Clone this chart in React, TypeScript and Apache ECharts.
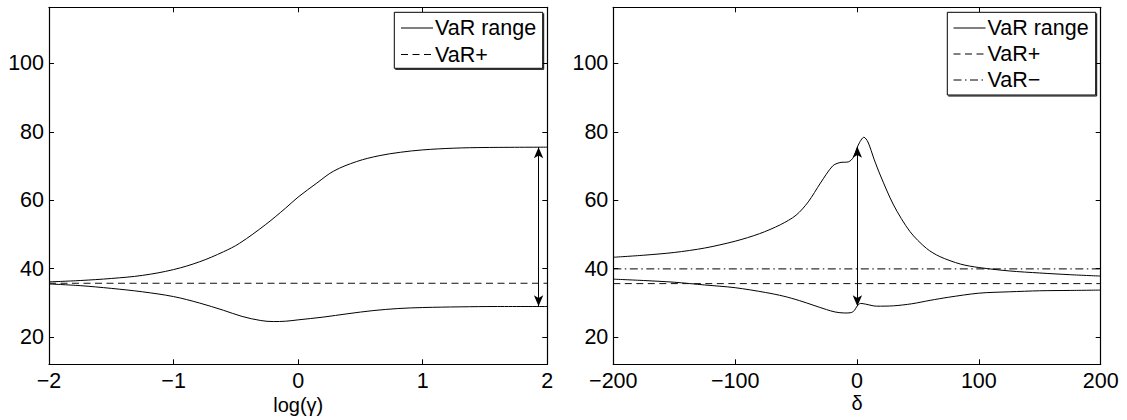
import { useEffect, useRef } from "react";
import * as echarts from "echarts";

// ---------- data ----------
const yTicks = [20, 40, 60, 80, 100];

// left panel: x = log(gamma)
const gammaX = [-2, -1.75, -1.5, -1.25, -1, -0.79, -0.6, -0.47, -0.26, -0.1, 0, 0.15, 0.285, 0.47, 0.65, 0.82, 1.0, 1.25, 1.5, 2.0];
const gammaUpper = [36.1, 36.5, 37.1, 38.0, 39.7, 42.0, 44.9, 47.4, 52.9, 57.7, 60.9, 65.0, 68.5, 71.3, 73.0, 74.0, 74.7, 75.2, 75.4, 75.5];
const gammaXLow = [-2, -1.75, -1.5, -1.25, -1, -0.79, -0.6, -0.45, -0.3, -0.2, -0.1, 0, 0.2, 0.4, 0.6, 0.8, 1.0, 1.3, 1.6, 2.0];
const gammaLower = [35.5, 35.0, 34.2, 33.2, 31.8, 29.9, 27.8, 26.0, 24.8, 24.5, 24.6, 25.0, 25.8, 26.8, 27.7, 28.3, 28.6, 28.8, 28.9, 28.9];
const gammaVarPlus = 35.7;
const gammaArrow = [1.93, 75.5, 29.0]; // x, top, bottom

// right panel: x = delta
const deltaXUp = [-200, -175, -150, -125, -100, -80, -63, -50, -40, -30, -20, -14, -7, -3, 1, 5.7, 9, 14, 19, 30, 43.5, 57, 68, 85, 100, 125, 150, 175, 200];
const deltaUpper = [43.3, 43.9, 44.7, 46.0, 48.0, 50.2, 52.8, 55.6, 59.5, 65.0, 70.0, 71.0, 71.2, 72.5, 76.1, 78.4, 77.0, 72.0, 67.4, 58.6, 50.8, 45.9, 43.5, 41.3, 40.3, 39.3, 38.7, 38.2, 37.8];
const deltaXLow = [-200, -175, -150, -125, -100, -75, -60, -47, -36, -25, -18, -10, -5, -2, 0, 3, 7, 16, 30, 45, 60, 75, 100, 125, 150, 175, 200];
const deltaLower = [36.9, 36.5, 36.0, 35.2, 34.4, 33.0, 31.9, 30.6, 29.3, 28.0, 27.3, 27.0, 27.1, 27.8, 29.0, 29.8, 29.6, 29.0, 29.1, 29.7, 30.7, 31.6, 32.8, 33.2, 33.5, 33.6, 33.7];
const deltaVarPlus = 35.6;
const deltaVarMinus = 39.9;
const deltaArrow = [0.3, 75.6, 29.0];

const FONT = "Liberation Sans";
const FS = 21.5;
const minus = (v: number) => String(v).replace("-", "\u2212");

function zip(xs: number[], ys: number[]) {
  return xs.map((x, i) => [x, ys[i]]);
}

export default function App() {
  const ref = useRef<HTMLDivElement>(null);
  useEffect(() => {
    if (!ref.current) return;
    const chart = echarts.init(ref.current, undefined, { renderer: "svg" });

    const axisLine = { show: true, onZero: false, lineStyle: { color: "#000", width: 1.2 } };
    const tick = { show: true, inside: true, length: 5, lineStyle: { color: "#000", width: 1 } };
    const label = { color: "#000", fontSize: FS, fontFamily: FONT, formatter: (v: number) => minus(v) };

    const xAxisDef = (grid: number, min: number, max: number, interval: number, top: boolean) => ({
      type: "value",
      gridIndex: grid,
      position: top ? "top" : "bottom",
      min,
      max,
      interval,
      axisLine,
      axisTick: tick,
      axisLabel: top ? { show: false } : { ...label, margin: 6 },
      splitLine: { show: false },
    });
    const yAxisDef = (grid: number, right: boolean) => ({
      type: "value",
      gridIndex: grid,
      position: right ? "right" : "left",
      min: 12,
      max: 116.4,
      axisLine,
      axisTick: { ...tick, customValues: yTicks },
      axisLabel: right ? { show: false } : { ...label, margin: 5, customValues: yTicks },
      splitLine: { show: false },
    });

    const solid = { color: "#000", width: 1 };
    const lineSeries = (xi: number, yi: number, data: number[][], style: any, smooth: number | boolean = 0.35) => ({
      type: "line",
      xAxisIndex: xi,
      yAxisIndex: yi,
      data,
      smooth,
      symbol: "none",
      lineStyle: style,
      silent: true,
      z: 3,
    });
    const arrow = (xi: number, yi: number, a: number[]) => ({
      type: "line",
      xAxisIndex: xi,
      yAxisIndex: yi,
      data: [],
      symbol: "none",
      silent: true,
      z: 4,
      markLine: {
        silent: true,
        symbol: ["arrow", "arrow"],
        symbolSize: [7, 11],
        label: { show: false },
        lineStyle: { color: "#000", width: 1, type: "solid" },
        emphasis: { disabled: true },
        data: [[{ coord: [a[0], a[1]] }, { coord: [a[0], a[2]] }]],
      },
    });

    const legendBox = (x: number, y: number, w: number, h: number) => [
      { type: "rect", shape: { x, y, width: w, height: h }, style: { fill: "#fff", stroke: "#000", lineWidth: 1 }, z: 10 },
      { type: "line", shape: { x1: x + w + 1, y1: y + 1, x2: x + w + 1, y2: y + h + 1 }, style: { stroke: "#000", lineWidth: 1 }, z: 10 },
      { type: "line", shape: { x1: x + 1, y1: y + h + 1, x2: x + w + 1, y2: y + h + 1 }, style: { stroke: "#000", lineWidth: 1 }, z: 10 },
    ];
    const legendEntry = (x: number, y: number, text: string, dash: number[] | null) => [
      { type: "line", shape: { x1: x, y1: y, x2: x + 32, y2: y }, style: { stroke: "#000", lineWidth: 1, lineDash: dash || undefined }, z: 11 },
      { type: "text", x: x + 34, y, style: { text, fill: "#000", fontSize: FS, fontFamily: FONT, verticalAlign: "middle", align: "left" }, z: 11 },
    ];

    const dashed = [7, 4.5];
    const dashDot = [8, 3.5, 1.5, 3.5];

    chart.setOption({
      animation: false,
      backgroundColor: "#fff",
      grid: [
        { left: 49, top: 7.3, width: 498.3, height: 357, containLabel: false },
        { left: 613.3, top: 7.3, width: 487.4, height: 357, containLabel: false },
      ],
      xAxis: [
        xAxisDef(0, -2, 2, 1, false),
        xAxisDef(0, -2, 2, 1, true),
        xAxisDef(1, -200, 200, 100, false),
        xAxisDef(1, -200, 200, 100, true),
      ],
      yAxis: [yAxisDef(0, false), yAxisDef(0, true), yAxisDef(1, false), yAxisDef(1, true)],
      series: [
        lineSeries(0, 0, zip(gammaX, gammaUpper), solid),
        lineSeries(0, 0, zip(gammaXLow, gammaLower), solid),
        lineSeries(0, 0, [[-2, gammaVarPlus], [2, gammaVarPlus]], { color: "#111", width: 1, type: dashed }, false),
        arrow(0, 0, gammaArrow),
        lineSeries(2, 2, zip(deltaXUp, deltaUpper), solid, 0.3),
        lineSeries(2, 2, zip(deltaXLow, deltaLower), solid, 0.3),
        lineSeries(2, 2, [[-200, deltaVarPlus], [200, deltaVarPlus]], { color: "#111", width: 1, type: dashed }, false),
        lineSeries(2, 2, [[-200, deltaVarMinus], [200, deltaVarMinus]], { color: "#000", width: 1, type: dashDot }, false),
        arrow(2, 2, deltaArrow),
      ],
      graphic: [
        ...legendBox(394.3, 12.3, 148.4, 56),
        ...legendEntry(401, 28, "VaR range", null),
        ...legendEntry(401, 54.5, "VaR+", dashed),
        ...legendBox(947.3, 12.3, 148.4, 82.7),
        ...legendEntry(953.5, 28, "VaR range", null),
        ...legendEntry(953.5, 54, "VaR+", dashed),
        ...legendEntry(953.5, 80, "VaR\u2212", dashDot),
        { type: "text", x: 298.2, y: 405, style: { text: "log(\u03b3)", fill: "#000", fontSize: 20, fontFamily: FONT, align: "center", verticalAlign: "middle" } },
        { type: "text", x: 857, y: 403, style: { text: "\u03b4", fill: "#000", fontSize: 20, fontFamily: FONT, align: "center", verticalAlign: "middle" } },
      ],
    });
    return () => chart.dispose();
  }, []);
  return <div ref={ref} style={{ position: "fixed", left: 0, top: 0, width: 1127, height: 420, background: "#fff" }} />;
}
